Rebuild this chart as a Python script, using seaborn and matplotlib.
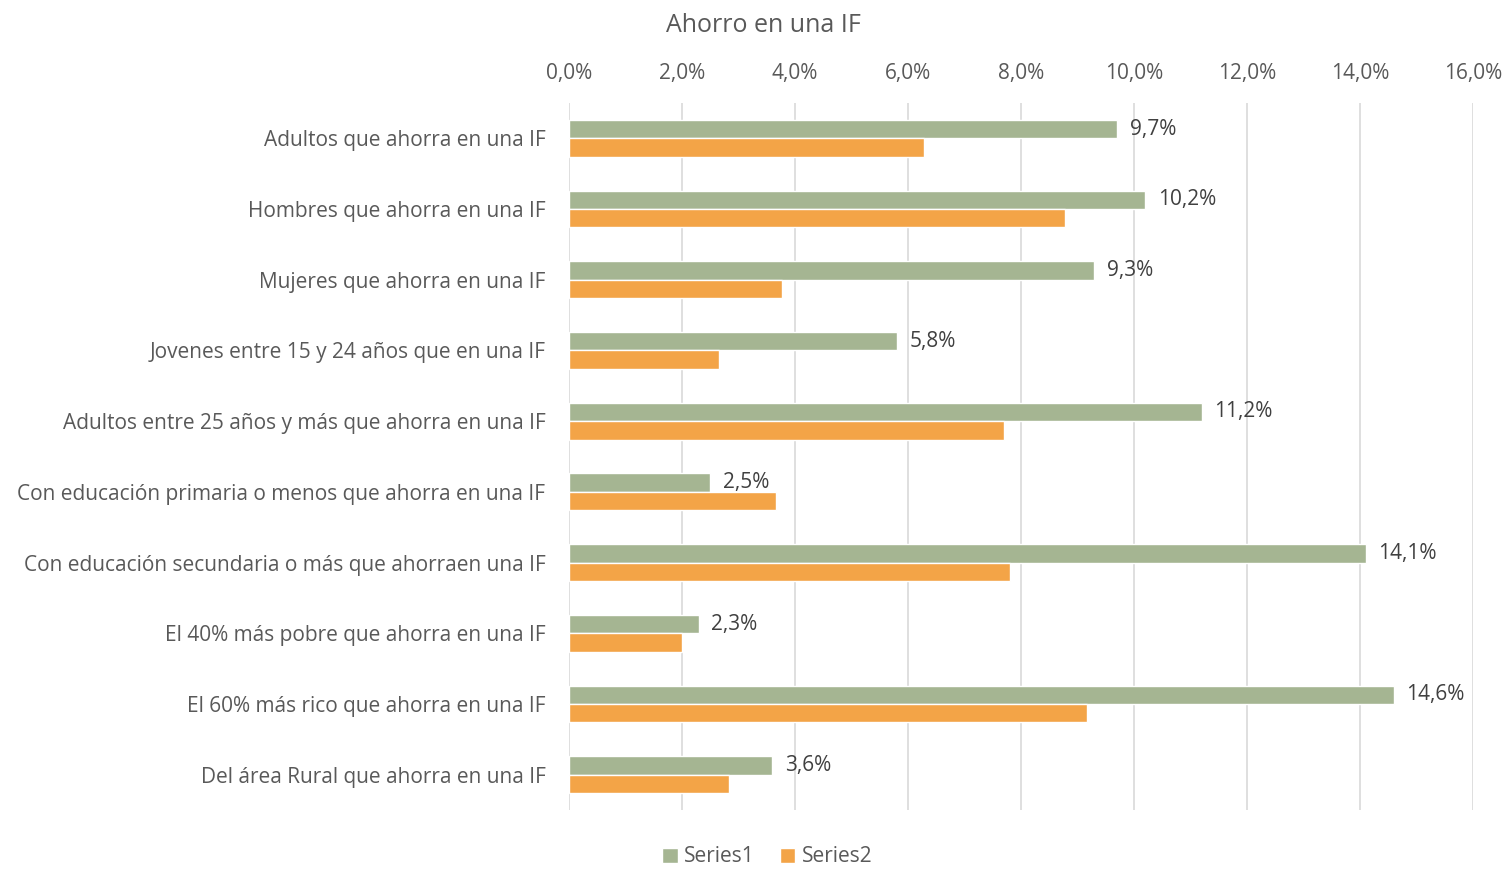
import matplotlib
matplotlib.use("Agg")
import matplotlib.pyplot as plt
import seaborn as sns
import pandas as pd
from matplotlib.ticker import FuncFormatter

categories = [
    "Adultos que ahorra en una IF",
    "Hombres que ahorra en una IF",
    "Mujeres que ahorra en una IF",
    "Jovenes entre 15 y 24 años que en una IF",
    "Adultos entre 25 años y más que ahorra en una IF",
    "Con educación primaria o menos que ahorra en una IF",
    "Con educación secundaria o más que ahorraen una IF",
    "El 40% más pobre que ahorra en una IF",
    "El 60% más rico que ahorra en una IF",
    "Del área Rural que ahorra en una IF",
]
series1 = [9.7, 10.2, 9.3, 5.8, 11.2, 2.5, 14.1, 2.3, 14.6, 3.6]
series2 = [6.29, 8.78, 3.77, 2.66, 7.70, 3.67, 7.81, 2.0, 9.16, 2.83]
series_names = ["Series1", "Series2"]
xticks = [0, 2, 4, 6, 8, 10, 12, 14, 16]

rows = []
for c, a, b in zip(categories, series1, series2):
    rows.append({"cat": c, "serie": series_names[0], "val": a})
    rows.append({"cat": c, "serie": series_names[1], "val": b})
df = pd.DataFrame(rows)

sns.set_theme(style="white")
plt.rcParams["font.family"] = ["Open Sans", "DejaVu Sans"]
txt = "#595959"

fig = plt.figure(figsize=(15.09, 8.69), dpi=100)
ax = fig.add_axes([569/1509, 1-810/869, (1473-569)/1509, (810-103)/869])

sns.barplot(data=df, y="cat", x="val", hue="serie", order=categories,
            hue_order=series_names, palette=["#A5B592", "#F3A447"],
            orient="h", width=0.52, ax=ax, legend=True, saturation=1)

ax.set_xlim(0, 16)
ax.set_ylim(9.5, -0.5)
ax.set_xticks(xticks)
ax.xaxis.set_major_formatter(FuncFormatter(lambda v, p: f"{v:.1f}%".replace(".", ",")))
ax.xaxis.tick_top()
ax.tick_params(axis="x", length=0, labelsize=15, colors=txt, pad=14)
ax.tick_params(axis="y", length=0, labelsize=15, colors=txt, pad=17)
ax.grid(axis="x", color="#D9D9D9", linewidth=1.2)
ax.set_axisbelow(True)
for s in ax.spines.values():
    s.set_visible(False)
ax.set_xlabel("")
ax.set_ylabel("")

ax.bar_label(ax.containers[0], labels=[f"{v:.1f}%".replace(".", ",") for v in series1],
             padding=9, fontsize=15, color="#404040")

fig.text(763/1509, 1-26/869, "Ahorro en una IF", ha="center", va="center",
         fontsize=18, color=txt)

handles, labels = ax.get_legend_handles_labels()
ax.legend_.remove()
fig.legend(handles, labels, loc="center", bbox_to_anchor=(767/1509, 1-857/869),
           ncol=2, frameon=False, fontsize=15, labelcolor=txt,
           handlelength=0.75, handleheight=0.75, handletextpad=0.3, columnspacing=1.2)

fig.savefig("out.png", dpi=100)
